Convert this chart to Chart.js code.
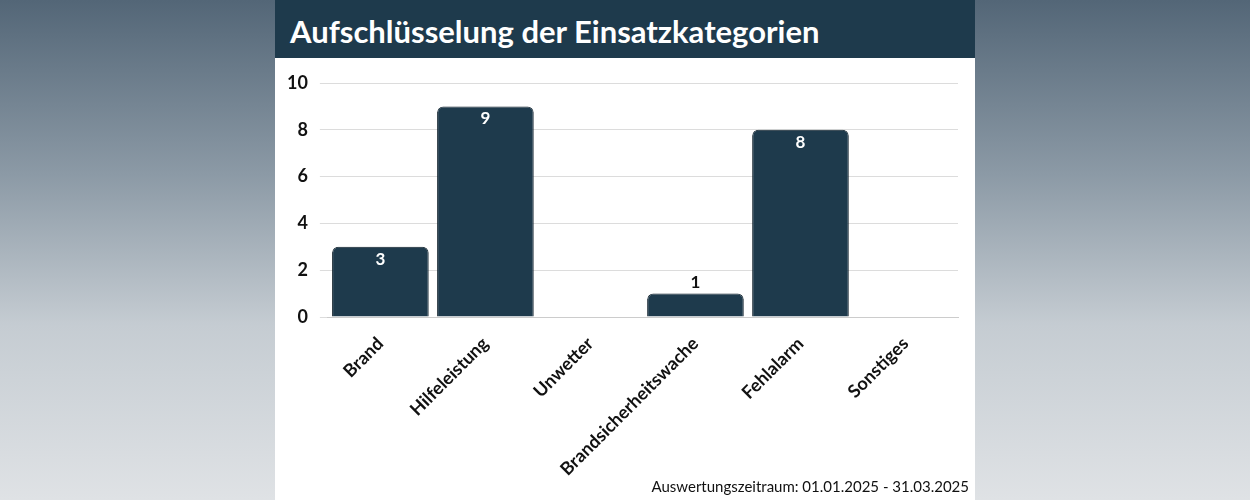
<!DOCTYPE html>
<html><head><meta charset="utf-8">
<script src="https://cdn.jsdelivr.net/npm/chart.js@4"></script>
<style>
html,body{margin:0;width:1250px;height:500px;overflow:hidden;font-family:Lato,sans-serif}
body{background:linear-gradient(to bottom,#536677 0%,#8c9aa6 35%,#c5ccd2 65%,#dfe2e5 100%)}
#panel{position:absolute;left:275px;top:0;width:700px;height:500px;background:#fff}
#hdr{height:58px;background:#1e3a4c;color:#fff;font-weight:bold;font-size:31px;line-height:62px;padding-left:15px}
#wrap{position:absolute;left:0;top:58px;width:700px;height:430px}
#foot{position:absolute;right:6px;bottom:5px;font-size:15px;color:#111}
</style></head><body>
<div id="panel"><div id="hdr">Aufschlüsselung der Einsatzkategorien</div>
<div id="wrap"><canvas id="c"></canvas></div>
<div id="foot">Auswertungszeitraum: 01.01.2025 - 31.03.2025</div></div>
<script>
const categories=["Brand","Hilfeleistung","Unwetter","Brandsicherheitswache","Fehlalarm","Sonstiges"];
const counts=[3,9,0,1,8,0];
const yTicks=[0,2,4,6,8,10];
const labelPlugin={id:'lbl',afterDatasetsDraw(ch){const c=ch.ctx;const m=ch.getDatasetMeta(0);
c.save();c.font='bold 17px Lato';c.textAlign='center';
m.data.forEach((b,i)=>{const v=counts[i];if(!v)return;const h=b.base-b.y;
if(h>35){c.fillStyle='#fff';c.textBaseline='top';c.fillText(v,b.x,b.y+4);}
else{c.fillStyle='#111';c.textBaseline='bottom';c.fillText(v,b.x,b.y-3);}});c.restore();}};
new Chart(document.getElementById('c'),{type:'bar',
data:{labels:categories,datasets:[{data:counts,backgroundColor:'#1e3a4c',borderColor:'#0f1f2a',borderWidth:1,borderRadius:6,borderSkipped:'bottom',categoryPercentage:0.92,barPercentage:1}]},
options:{responsive:true,maintainAspectRatio:false,animation:false,
layout:{padding:{left:0,right:17,top:25,bottom:0}},
plugins:{legend:{display:false},tooltip:{enabled:false}},
scales:{y:{min:0,max:10,afterBuildTicks(a){a.ticks=yTicks.map(v=>({value:v}));},
grid:{color:'#dcdcdc'},border:{display:false},
ticks:{color:'#111',font:{family:'Lato',size:18,weight:'bold'},padding:12}},
x:{grid:{display:false},border:{color:'#ccc'},
ticks:{color:'#111',font:{family:'Lato',size:18,weight:'bold'},maxRotation:45,minRotation:45,padding:8}}}},
plugins:[labelPlugin]});
</script></body></html>
